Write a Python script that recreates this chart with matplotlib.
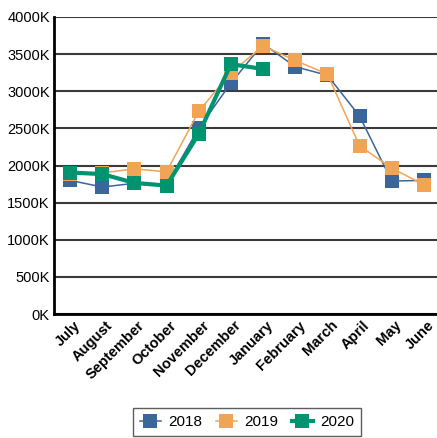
import matplotlib
matplotlib.use("Agg")
import matplotlib.pyplot as plt

months = ["July", "August", "September", "October", "November", "December",
          "January", "February", "March", "April", "May", "June"]
s2018 = [1800, 1710, 1760, 1750, 2500, 3110, 3640, 3330, 3215, 2665, 1790, 1800]
s2019 = [1880, 1900, 1955, 1915, 2730, 3250, 3610, 3415, 3230, 2265, 1965, 1740]
s2020 = [1905, 1885, 1765, 1730, 2425, 3365, 3300]
yticks = [0, 500, 1000, 1500, 2000, 2500, 3000, 3500, 4000]

plt.rcParams['font.family'] = ['Liberation Sans', 'DejaVu Sans']

fig = plt.figure(figsize=(4.37, 4.38), dpi=100)
ax = fig.add_axes([54/437, 1-314/438, 386/437, 297/438])

x = list(range(len(months)))
ax.plot(x, s2018, color='#3A6699', lw=1.1, marker='s', ms=10, mew=0, label='2018', zorder=3)
ax.plot(x, s2019, color='#F0A554', lw=1.1, marker='s', ms=10, mew=0, label='2019', zorder=4)
ax.plot(x[:len(s2020)], s2020, color='#00936F', lw=3, marker='s', ms=10, mew=0, label='2020', zorder=5)

ax.set_xlim(-0.5, 11.5)
ax.set_ylim(0, 4000)
ax.set_yticks(yticks)
ax.set_yticklabels([f"{v}K" for v in yticks], fontsize=10.5)
ax.yaxis.grid(True, color='#3a3a3a', lw=1.5)
ax.set_axisbelow(True)
ax.tick_params(axis='y', length=0, pad=3)
ax.tick_params(axis='x', length=0, pad=3)
ax.set_xticks(x)
ax.set_xticklabels(months, rotation=45, ha='right', va='top', rotation_mode='anchor',
                   fontsize=10.5, fontweight='bold')
for lbl in ax.get_xticklabels():
    lbl.set_transform(lbl.get_transform() + matplotlib.transforms.ScaledTranslation(3/100, 0, fig.dpi_scale_trans))
for s in ['top', 'right']:
    ax.spines[s].set_visible(False)
ax.spines['left'].set_linewidth(2)
ax.spines['bottom'].set_linewidth(2)

leg = fig.legend(loc='center', bbox_to_anchor=(0.565, 0.036), ncol=3, fontsize=11,
                 frameon=True, fancybox=False, edgecolor='#333333', handlelength=1.4,
                 handletextpad=0.45, columnspacing=0.9, borderpad=0.45)
leg.get_frame().set_linewidth(1)

fig.savefig("out.png", dpi=100)
